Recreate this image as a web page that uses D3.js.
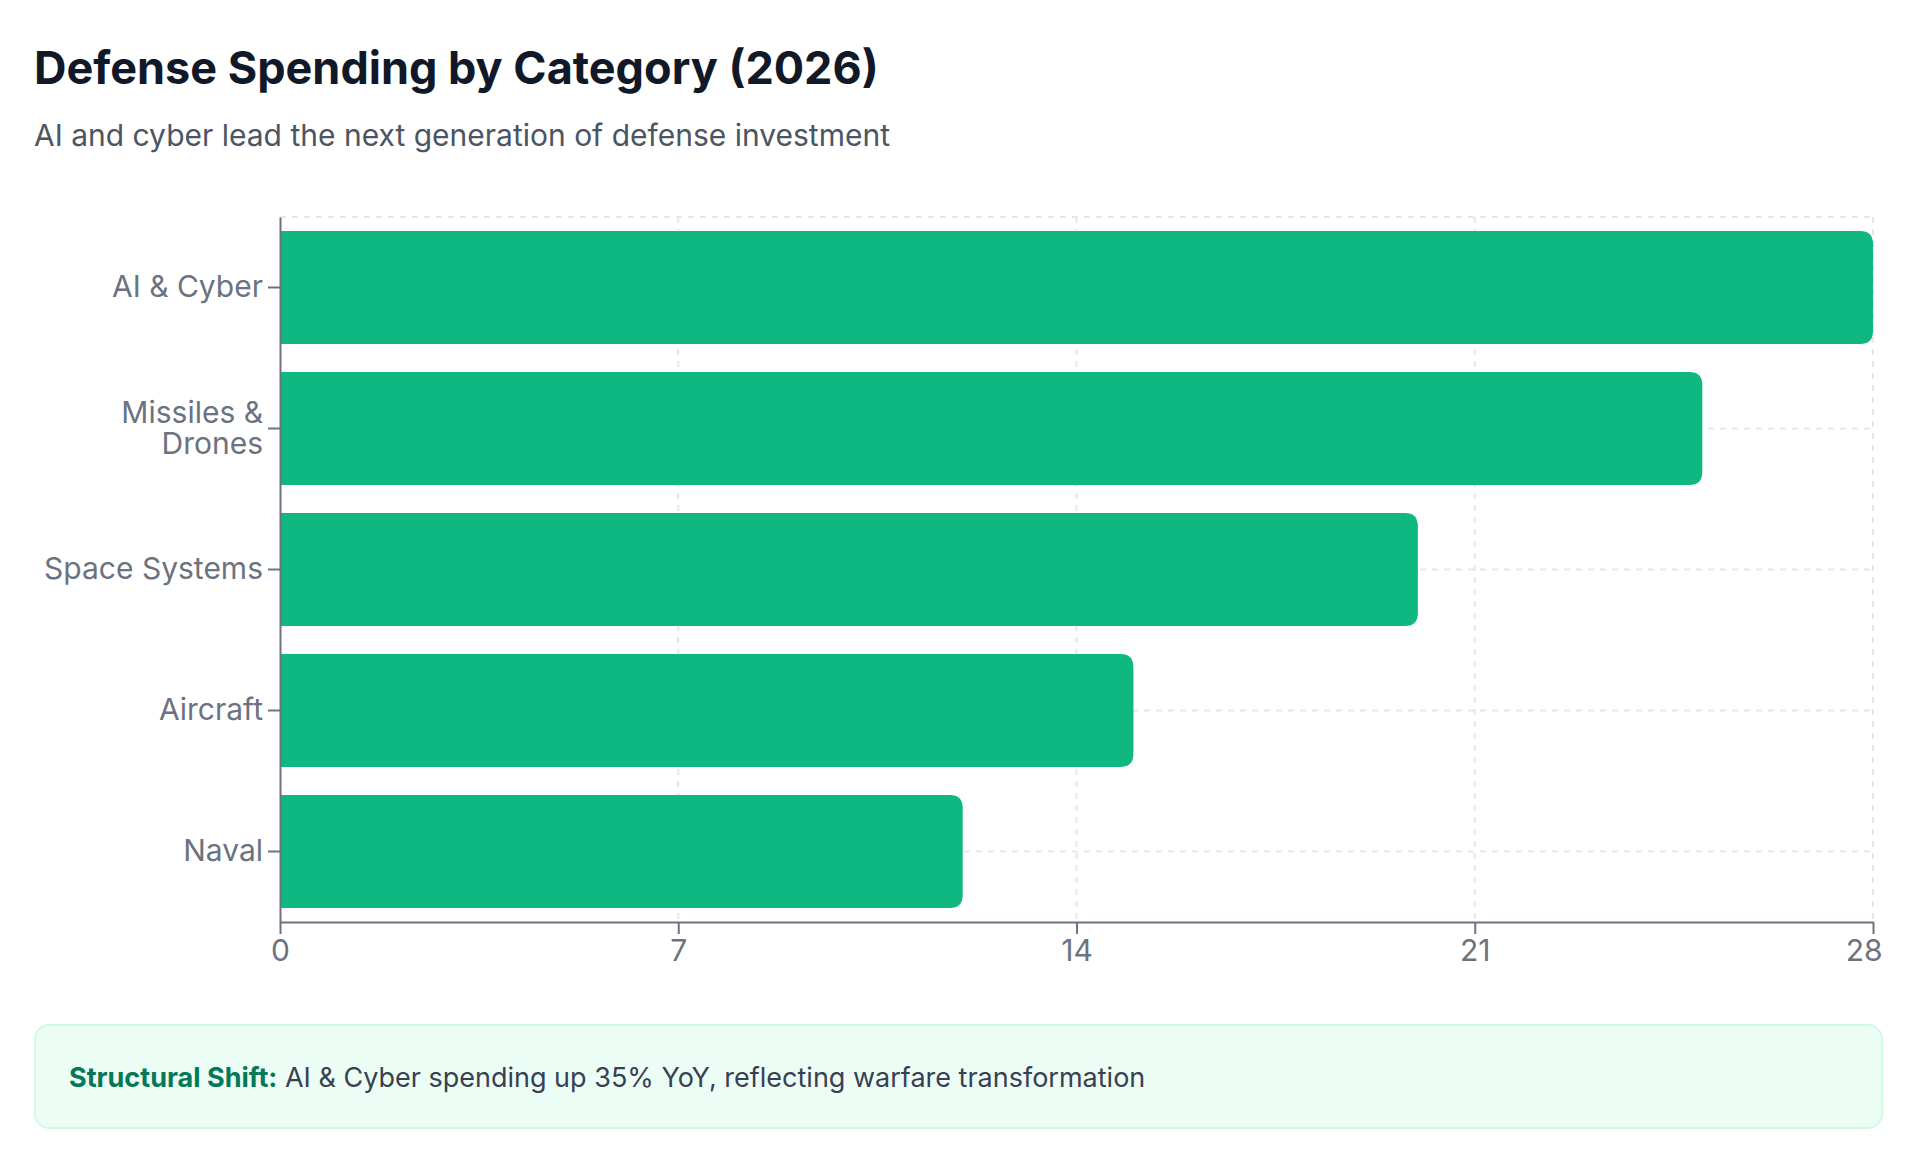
<!DOCTYPE html>
<html lang="en">
<head>
  <meta charset="UTF-8">
  <title>Defense Spending by Category (2026)</title>
  <style>
    html, body { margin: 0; padding: 0; background: #fff; }
    svg { display: block; font-family: Inter, "Noto Sans", sans-serif; }
  </style>
</head>
<body>
  <script src="https://d3js.org/d3.v7.min.js"></script>
  <script>
    const categories = ['AI & Cyber', 'Missiles & Drones', 'Space Systems', 'Aircraft', 'Naval']
    const spending = [28, 25, 20, 15, 12]
    const xTicks = [0, 7, 14, 21, 28]

    const width = 1920
    const height = 1167
    const margin = { left: 280, right: 47, top: 217, bottom: 245 }
    const innerWidth = width - margin.left - margin.right
    const innerHeight = height - margin.top - margin.bottom

    const data = categories.map((c, i) => ({ category: c, value: spending[i] }))

    const svg = d3.select('body')
      .append('svg')
      .attr('width', width)
      .attr('height', height)

    // title + subtitle
    svg.append('text')
      .attr('x', 34)
      .attr('y', 84)
      .attr('font-size', 45)
      .attr('font-weight', 700)
      .attr('fill', '#111827')
      .text('Defense Spending by Category (2026)')

    svg.append('text')
      .attr('x', 34)
      .attr('y', 146)
      .attr('font-size', 30)
      .attr('fill', '#4b5563')
      .text('AI and cyber lead the next generation of defense investment')

    const g = svg.append('g')
      .attr('transform', `translate(${margin.left},${margin.top})`)

    const xScale = d3.scaleLinear()
      .domain([0, 28])
      .range([0, innerWidth])

    const yScale = d3.scaleBand()
      .domain(categories)
      .range([0, innerHeight])
      .paddingInner(0.2)
      .paddingOuter(0.1)

    // grid
    const grid = g.append('g')
      .attr('stroke', '#e5e7eb')
      .attr('stroke-width', 2)
      .attr('stroke-dasharray', '6 6')

    grid.selectAll('.vline')
      .data(xTicks.slice(1))
      .enter()
      .append('line')
      .attr('x1', d => xScale(d))
      .attr('x2', d => xScale(d))
      .attr('y1', 0)
      .attr('y2', innerHeight)

    grid.selectAll('.hline')
      .data([0].concat(categories.map(c => yScale(c) + yScale.bandwidth() / 2)))
      .enter()
      .append('line')
      .attr('x1', 0)
      .attr('x2', innerWidth)
      .attr('y1', d => d)
      .attr('y2', d => d)

    // bars, rounded on the right end only
    const r = 13
    const barPath = d => {
      const x0 = xScale(0)
      const x1 = xScale(d.value)
      const y0 = yScale(d.category)
      const y1 = y0 + yScale.bandwidth()
      return `M${x0},${y0}H${x1 - r}Q${x1},${y0} ${x1},${y0 + r}V${y1 - r}Q${x1},${y1} ${x1 - r},${y1}H${x0}Z`
    }

    g.selectAll('.bar')
      .data(data)
      .enter()
      .append('path')
      .attr('class', 'bar')
      .attr('d', barPath)
      .attr('fill', '#0fb880')

    // axes
    const xAxis = d3.axisBottom(xScale)
      .tickValues(xTicks)
      .tickSize(12)
      .tickSizeOuter(0)
      .tickPadding(6)

    const yAxis = d3.axisLeft(yScale)
      .tickSize(12)
      .tickSizeOuter(0)
      .tickPadding(5)

    const xg = g.append('g')
      .attr('transform', `translate(0,${innerHeight})`)
      .call(xAxis)

    const yg = g.append('g')
      .call(yAxis)

    ;[xg, yg].forEach(a => {
      a.selectAll('path, line').attr('stroke', '#6b7280').attr('stroke-width', 2)
      a.selectAll('text')
        .attr('fill', '#6b7280')
        .attr('font-size', 30)
        .attr('font-family', 'Inter, sans-serif')
    })

    // keep the last x label inside the plot
    xg.selectAll('text')
      .filter(d => d === 28)
      .attr('text-anchor', 'end')
      .attr('dx', 9)

    // wrap long category labels
    yg.selectAll('.tick text').each(function (d) {
      const t = d3.select(this)
      if (this.getComputedTextLength() < 240) return
      const words = d.split(' ')
      const lines = [words.slice(0, 2).join(' '), words.slice(2).join(' ')]
      const x = t.attr('x')
      t.text(null).attr('dy', null)
      lines.forEach((line, i) => {
        t.append('tspan')
          .attr('x', x)
          .attr('dy', i === 0 ? '-0.2em' : '1.05em')
          .text(line)
      })
    })

    // insight box
    const box = svg.append('g')
    box.append('rect')
      .attr('x', 35)
      .attr('y', 1025)
      .attr('width', 1847)
      .attr('height', 103)
      .attr('rx', 14)
      .attr('fill', '#ecfdf5')
      .attr('stroke', '#d1fae5')
      .attr('stroke-width', 2)

    const note = box.append('text')
      .attr('x', 69)
      .attr('y', 1087)
      .attr('font-size', 27)
      .attr('fill', '#374151')
    note.append('tspan')
      .attr('font-weight', 700)
      .attr('fill', '#047857')
      .text('Structural Shift:')
    note.append('tspan')
      .text(' AI & Cyber spending up 35% YoY, reflecting warfare transformation')
  </script>
</body>
</html>
